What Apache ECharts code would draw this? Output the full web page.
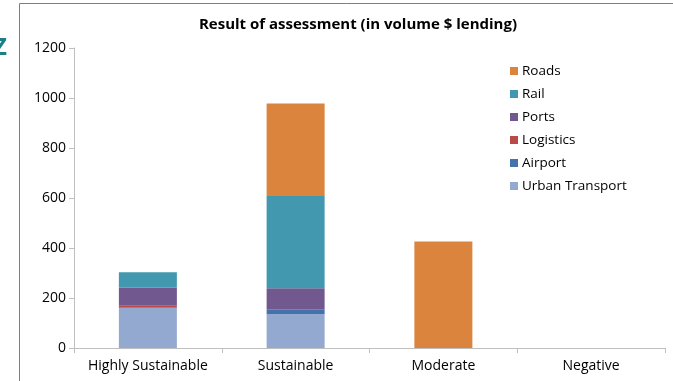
<!DOCTYPE html>
<html>
<head>
<meta charset="utf-8">
<script src="https://cdn.jsdelivr.net/npm/echarts@6/dist/echarts.min.js"></script>
<style>
  html, body { margin: 0; padding: 0; background: #fff; }
  #chart { width: 673px; height: 381px; }
</style>
</head>
<body>
<div id="chart"></div>
<script>
// categories on the x axis
var categories = ['Highly Sustainable', 'Sustainable', 'Moderate', 'Negative'];

// stacked series, bottom to top
var urbanTransport = [161, 136, 0, 0];
var airport = [0, 19, 0, 0];
var logistics = [8, 0, 0, 0];
var ports = [72, 84, 0, 0];
var rail = [62, 369, 0, 0];
var roads = [0, 370, 426, 0];

// legend order as in the picture
var legendOrder = ['Roads', 'Rail', 'Ports', 'Logistics', 'Airport', 'Urban Transport'];

var colors = {
    'Urban Transport': '#93a9cf',
    'Airport': '#4472aa',
    'Logistics': '#b94a48',
    'Ports': '#71588f',
    'Rail': '#4298af',
    'Roads': '#db843d'
};

var font = 'Open Sans, Liberation Sans, sans-serif';

// build one stacked bar series
function bar(name, values) {
    return {
        name: name,
        type: 'bar',
        stack: 'total',
        barWidth: 58,
        data: values,
        itemStyle: {color: colors[name]},
        emphasis: {disabled: true}
    };
}

var myChart = echarts.init(document.getElementById('chart'));

var option = {
    animation: false,
    title: {
        text: 'Result of assessment (in volume $ lending)',
        left: 353,
        textAlign: 'center',
        top: 12,
        textStyle: {fontFamily: font, fontSize: 15, fontWeight: 'bold', color: '#000'}
    },
    legend: {
        data: legendOrder,
        orient: 'vertical',
        left: 505,
        top: 59,
        itemWidth: 8,
        itemHeight: 8,
        itemGap: 9,
        icon: 'rect',
        textStyle: {fontFamily: font, fontSize: 13.5, color: '#000', padding: [0, 0, 0, -1]}
    },
    grid: {left: 74, right: 8, top: 48, bottom: 33, containLabel: false},
    xAxis: {
        type: 'category',
        data: categories,
        axisLine: {lineStyle: {color: '#bfbfbf'}},
        axisTick: {show: true, alignWithLabel: false, length: 5, lineStyle: {color: '#bfbfbf'}},
        axisLabel: {fontFamily: font, fontSize: 14, color: '#000', margin: 11, interval: 0}
    },
    yAxis: {
        type: 'value',
        min: 0,
        max: 1200,
        interval: 200,
        axisLine: {show: true, lineStyle: {color: '#bfbfbf'}},
        axisTick: {show: true, length: 5, lineStyle: {color: '#bfbfbf'}},
        splitLine: {show: false},
        axisLabel: {
            fontFamily: font, fontSize: 14, color: '#000', margin: 8,
            formatter: function(v) { return String(v); }
        }
    },
    graphic: [
        {
            type: 'rect',
            shape: {x: 19.5, y: 3.5, width: 700, height: 400},
            style: {fill: 'none', stroke: '#7f7f7f', lineWidth: 1},
            silent: true
        },
        {
            type: 'text',
            left: -7,
            top: 36,
            style: {text: 'Z', fill: '#1a8088', font: 'bold 24px ' + font}
        }
    ],
    series: [
        bar('Urban Transport', urbanTransport),
        bar('Airport', airport),
        bar('Logistics', logistics),
        bar('Ports', ports),
        bar('Rail', rail),
        bar('Roads', roads)
    ]
};

myChart.setOption(option);
</script>
</body>
</html>
